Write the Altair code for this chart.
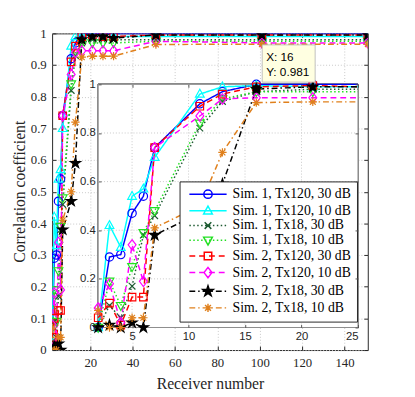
import altair as alt
import pandas as pd
import numpy as np

# ---------------- data ----------------
receivers = [2, 3, 4, 5, 6, 7, 11, 13, 16, 21, 26, 31, 51, 101, 151]
series_names = [
    "Sim. 1, Tx120, 30 dB", "Sim. 1, Tx120, 10 dB",
    "Sim. 1, Tx18, 30 dB", "Sim. 1, Tx18, 10 dB",
    "Sim. 2, Tx120, 30 dB", "Sim. 2, Tx120, 10 dB",
    "Sim. 2, Tx18, 30 dB", "Sim. 2, Tx18, 10 dB",
]
s1_tx120_30 = [0.00, 0.29, 0.30, 0.47, 0.54, 0.74, 0.92, 0.97, 1.00, 1.00, 1.00, 1.00, 1.00, 1.00, 1.00]
s1_tx120_10 = [0.00, 0.42, 0.33, 0.54, 0.57, 0.70, 0.96, 0.99, 0.995, 0.99, 0.99, 0.99, 0.99, 0.99, 0.99]
s1_tx18_30 = [0.00, 0.09, 0.04, 0.17, 0.38, 0.46, 0.82, 0.93, 0.97, 0.98, 0.98, 0.98, 0.98, 0.98, 0.98]
s1_tx18_10 = [0.00, 0.19, 0.09, 0.25, 0.39, 0.48, 0.84, 0.94, 0.97, 0.97, 0.97, 0.97, 0.975, 0.975, 0.975]
s2_tx120_30 = [0.04, 0.10, 0.01, 0.125, 0.125, 0.74, 0.91, 0.96, 0.99, 0.995, 0.99, 0.99, 0.995, 0.995, 0.995]
s2_tx120_10 = [0.08, 0.18, 0.02, 0.34, 0.19, 0.74, 0.87, 0.94, 0.945, 0.945, 0.945, 0.945, 0.975, 0.97, 0.97]
s2_tx18_30 = [0.00, 0.01, 0.00, 0.02, 0.00, 0.38, 0.47, 0.59, 0.981, 0.99, 0.99, 0.985, 0.995, 0.995, 0.995]
s2_tx18_10 = [0.07, 0.00, 0.00, 0.04, 0.04, 0.41, 0.50, 0.72, 0.925, 0.928, 0.928, 0.928, 0.965, 0.966, 0.966]
all_series = [s1_tx120_30, s1_tx120_10, s1_tx18_30, s1_tx18_10,
              s2_tx120_30, s2_tx120_10, s2_tx18_30, s2_tx18_10]

colors = ["#0000FF", "#00FFFF", "#1E5B32", "#22E022", "#FF0000", "#FF00FF", "#000000", "#E0801C"]
fills = ["transparent"] * 6 + ["#000000", "transparent"]
dash_px = [[], [], [1.5, 2.5], [1.5, 2.5], [6, 4], [6, 4], [6, 3, 1.5, 3], [6, 3, 1.5, 3]]

main_xticks = [20, 40, 60, 80, 100, 120, 140]
main_yticks = [0, 0.1, 0.2, 0.3, 0.4, 0.5, 0.6, 0.7, 0.8, 0.9, 1.0]
inset_xticks = [5, 10, 15, 20, 25]
inset_yticks = [0, 0.2, 0.4, 0.6, 0.8, 1.0]
tip_x, tip_y = 16, 0.981

rows = []
for name, ys in zip(series_names, all_series):
    for xv, yv in zip(receivers, ys):
        rows.append({"series": name, "x": xv, "y": yv})
df = pd.DataFrame(rows)

# ---------------- marker shapes ----------------
def star_path(r_out=1.3, r_in=0.5):
    pts = []
    for k in range(10):
        r = r_out if k % 2 == 0 else r_in
        a = -np.pi / 2 + k * np.pi / 5
        pts.append((r * np.cos(a), r * np.sin(a)))
    return "M" + "L".join(f"{px:.3f},{py:.3f}" for px, py in pts) + "Z"

marker_paths = [
    "M-1,0A1,1 0 1,0 1,0A1,1 0 1,0 -1,0Z",
    "M0,-1.15L1.05,0.75L-1.05,0.75Z",
    "M-0.8,-0.8L0.8,0.8M-0.8,0.8L0.8,-0.8",
    "M0,1.15L1.05,-0.75L-1.05,-0.75Z",
    "M-0.9,-0.9L0.9,-0.9L0.9,0.9L-0.9,0.9Z",
    "M0,-1.25L0.95,0L0,1.25L-0.95,0Z",
    star_path(),
    "M-1,0L1,0M0,-1L0,1M-0.7,-0.7L0.7,0.7M-0.7,0.7L0.7,-0.7",
]
MSIZE = 72
unit = np.sqrt(MSIZE) / 2


def seg_path(pattern, half):
    if not pattern:
        return f"M{-half/unit:.3f},0L{half/unit:.3f},0"
    parts, pos, i = [], -half, 0
    while pos < half - 1e-6:
        seg = pattern[i % len(pattern)]
        end = min(pos + seg, half)
        if i % 2 == 0:
            parts.append(f"M{pos/unit:.3f},0L{end/unit:.3f},0")
        pos, i = end, i + 1
    return "".join(parts)

legend_paths = [seg_path(d, 19) + m for d, m in zip(dash_px, marker_paths)]
dash_ranges = [d if d else [1, 0] for d in dash_px]

# ---------------- geometry ----------------
W, H = 322, 323
inset_x_range = [47, 312]
inset_y_range = [300, 52]

SERIF = "Liberation Serif"
SANS = "Liberation Sans"
AX = "#262626"

color_scale = alt.Scale(domain=series_names, range=colors)
dash_scale = alt.Scale(domain=series_names, range=dash_ranges)
shape_scale = alt.Scale(domain=series_names, range=marker_paths)
fill_scale = alt.Scale(domain=series_names, range=fills)


def tick_axis(orient, offset, values, size=4, color=AX, z=0):
    return alt.Axis(orient=orient, offset=offset, values=values, labels=False, ticks=True,
                    tickSize=size, tickColor=color, tickWidth=1, domain=False, grid=False,
                    title=None, zindex=z)


main_x_scale = alt.Scale(domain=[2, 151], nice=False, zero=False)
main_y_scale = alt.Scale(domain=[0, 1], nice=False)
main_x_axis = alt.Axis(orient="bottom", values=main_xticks, format="d", grid=True, gridDash=[1, 2],
                       gridColor="#c8c8c8", domain=False, ticks=False, labelFont=SERIF, labelFontSize=13,
                       labelColor=AX, labelPadding=7, title="Receiver number", titleFont=SERIF,
                       titleFontSize=16, titleFontWeight="normal", titleColor=AX, titleX=161,
                       titleY=34, titleBaseline="middle", titleAlign="center")
main_y_axis = alt.Axis(orient="left", values=main_yticks, format=".1~f", grid=True, gridDash=[1, 2],
                       gridColor="#c8c8c8", domain=False, ticks=False, labelFont=SERIF, labelFontSize=13,
                       labelColor=AX, labelPadding=6, title="Correlation coefficient",
                       titleFont=SERIF, titleFontSize=16, titleFontWeight="normal", titleColor=AX,
                       titleX=-33, titleY=161, titleBaseline="middle", titleAlign="center", titleAngle=270)

inset_x_scale = alt.Scale(domain=[2, 25], range=inset_x_range, nice=False, zero=False, clamp=True)
inset_y_scale = alt.Scale(domain=[0, 1], range=inset_y_range, nice=False)
inset_x_axis = alt.Axis(orient="bottom", values=inset_xticks, format="d", grid=False, domain=False,
                        ticks=False, labelFont=SANS, labelFontSize=11.5, labelColor=AX,
                        labelPadding=3, offset=-(H - inset_y_range[0]), title=None, zindex=1)
inset_y_axis = alt.Axis(orient="left", values=inset_yticks, format=".1~f", grid=False, domain=False,
                        ticks=False, labelFont=SANS, labelFontSize=11.5, labelColor=AX,
                        labelPadding=3, offset=-inset_x_range[0], title=None, zindex=1)

# ---------------- main panel ----------------
main_lines = alt.Chart(df).mark_line(strokeWidth=1.5, clip=True).encode(
    x=alt.X("x:Q", scale=main_x_scale, axis=main_x_axis),
    y=alt.Y("y:Q", scale=main_y_scale, axis=main_y_axis),
    color=alt.Color("series:N", scale=color_scale, legend=None),
    strokeDash=alt.StrokeDash("series:N", scale=dash_scale, legend=None),
)
main_points = alt.Chart(df).mark_point(size=MSIZE, strokeWidth=1.2, filled=False, opacity=1, clip=True).encode(
    x=alt.X("x:Q", scale=main_x_scale, axis=None),
    y=alt.Y("y:Q", scale=main_y_scale, axis=None),
    color=alt.Color("series:N", scale=color_scale, legend=None),
    shape=alt.Shape("series:N", scale=shape_scale, legend=None),
    fill=alt.Fill("series:N", scale=fill_scale, legend=None),
)
main_ticks_a = alt.Chart(df).transform_filter("false").mark_point().encode(
    x=alt.X("x:Q", scale=main_x_scale, axis=tick_axis("top", -H, main_xticks)),
    y=alt.Y("y:Q", scale=main_y_scale, axis=tick_axis("right", -W, main_yticks)),
)
main_ticks_b = alt.Chart(df).transform_filter("false").mark_point().encode(
    x=alt.X("x:Q", scale=main_x_scale, axis=tick_axis("bottom", -H, main_xticks)),
    y=alt.Y("y:Q", scale=main_y_scale, axis=tick_axis("left", -W, main_yticks)),
)
main_group = alt.layer(main_lines, main_points, main_ticks_a, main_ticks_b).resolve_axis(
    x="independent", y="independent")

# ---------------- inset panel ----------------
last_in = [v for v in receivers if v > 25][0]
df_in_lines = df[df.x <= last_in]
df_in_pts = df[df.x <= 25]
ix = alt.X("x:Q", scale=inset_x_scale, axis=None)
iy = alt.Y("y:Q", scale=inset_y_scale, axis=None)

inset_bg = alt.Chart(df).mark_rect(fill="white", stroke="#8c8c8c", strokeWidth=1).encode(
    x=alt.X(datum=2, scale=inset_x_scale, axis=inset_x_axis),
    x2=alt.datum(25),
    y=alt.Y(datum=0, scale=inset_y_scale, axis=inset_y_axis),
    y2=alt.datum(1),
)
inset_vgrid = alt.Chart(pd.DataFrame({"v": inset_xticks[:-1]})).mark_rule(
    color="#c8c8c8", strokeDash=[1, 2], strokeWidth=1).encode(
    x=alt.X("v:Q", scale=inset_x_scale, axis=None),
    y=alt.Y(datum=0, scale=inset_y_scale, axis=None), y2=alt.datum(1))
inset_hgrid = alt.Chart(pd.DataFrame({"v": inset_yticks[1:-1]})).mark_rule(
    color="#c8c8c8", strokeDash=[1, 2], strokeWidth=1).encode(
    y=alt.Y("v:Q", scale=inset_y_scale, axis=None),
    x=alt.X(datum=2, scale=inset_x_scale, axis=None), x2=alt.datum(25))
inset_lines = alt.Chart(df_in_lines).mark_line(strokeWidth=1.5).encode(
    x=ix, y=iy,
    color=alt.Color("series:N", scale=color_scale, legend=None),
    strokeDash=alt.StrokeDash("series:N", scale=dash_scale, legend=None),
)
inset_points = alt.Chart(df_in_pts).mark_point(size=MSIZE, strokeWidth=1.2, filled=False, opacity=1).encode(
    x=ix, y=iy,
    color=alt.Color("series:N", scale=color_scale, legend=None),
    shape=alt.Shape("series:N", scale=shape_scale, legend=None),
    fill=alt.Fill("series:N", scale=fill_scale, legend=None),
)
inset_ticks_a = alt.Chart(df).transform_filter("false").mark_point().encode(
    x=alt.X("x:Q", scale=inset_x_scale, axis=tick_axis("top", -inset_y_range[0], inset_xticks, 3, "#555555", 1)),
    y=alt.Y("y:Q", scale=inset_y_scale, axis=tick_axis("right", -(W - inset_x_range[0]), inset_yticks, 3, "#555555", 1)),
)
inset_ticks_b = alt.Chart(df).transform_filter("false").mark_point().encode(
    x=alt.X("x:Q", scale=inset_x_scale, axis=tick_axis("bottom", -(H - inset_y_range[1]), inset_xticks, 3, "#555555", 1)),
    y=alt.Y("y:Q", scale=inset_y_scale, axis=tick_axis("left", -inset_x_range[1], inset_yticks, 3, "#555555", 1)),
)
tip_df = pd.DataFrame({"x": [tip_x], "y": [tip_y],
                       "l1": [f"X: {tip_x}"], "l2": [f"Y: {tip_y}"]})
tip_box = alt.Chart(tip_df).mark_rect(fill="#FFFFE1", stroke="#b0b0b0", strokeWidth=0.8,
                                      xOffset=6, x2Offset=60, yOffset=-45, y2Offset=-7).encode(
    x=ix, x2="x:Q", y=iy, y2="y:Q")
tip_marker = alt.Chart(tip_df).mark_point(shape="square", size=60, filled=True, color="black", opacity=1).encode(
    x=ix, y=iy)
tip_t1 = alt.Chart(tip_df).mark_text(align="left", baseline="middle", dx=10, dy=-33,
                                     font=SANS, fontSize=12, color="black").encode(x=ix, y=iy, text="l1:N")
tip_t2 = alt.Chart(tip_df).mark_text(align="left", baseline="middle", dx=10, dy=-17,
                                     font=SANS, fontSize=12, color="black").encode(x=ix, y=iy, text="l2:N")
inset_group = alt.layer(inset_bg, inset_vgrid, inset_hgrid, inset_lines, inset_points,
                        inset_ticks_a, inset_ticks_b,
                        tip_marker, tip_box, tip_t1, tip_t2).resolve_axis(x="independent", y="independent")

# ---------------- legend ----------------
leg = alt.Legend(orient="none", legendX=130, legendY=151, title=None, padding=6,
                 fillColor="white", strokeColor=AX, labelFont=SERIF, labelFontSize=14,
                 labelColor="black", symbolSize=MSIZE, symbolStrokeWidth=1.5, symbolOffset=16,
                 labelOffset=18, rowPadding=1.0, labelLimit=300, cornerRadius=0, symbolOpacity=1)
legend_layer = alt.Chart(df).transform_filter("false").mark_point(filled=False, opacity=1).encode(
    shape=alt.Shape("series:N", scale=alt.Scale(domain=series_names, range=legend_paths), legend=leg),
    color=alt.Color("series:N", scale=alt.Scale(domain=series_names, range=colors), legend=leg),
    fill=alt.Fill("series:N", scale=alt.Scale(domain=series_names, range=fills), legend=leg),
)

chart = alt.layer(main_group, inset_group, legend_layer).resolve_scale(
    x="independent", y="independent", shape="independent", fill="independent", color="independent"
).properties(
    width=W, height=H,
    autosize=alt.AutoSizeParams(type="none"),
    padding={"left": 45, "top": 22, "right": 40, "bottom": 44},
    background="white",
).configure_view(stroke=AX, strokeWidth=1)

chart.save("out.html", embed_options={"renderer": "svg", "actions": False})
